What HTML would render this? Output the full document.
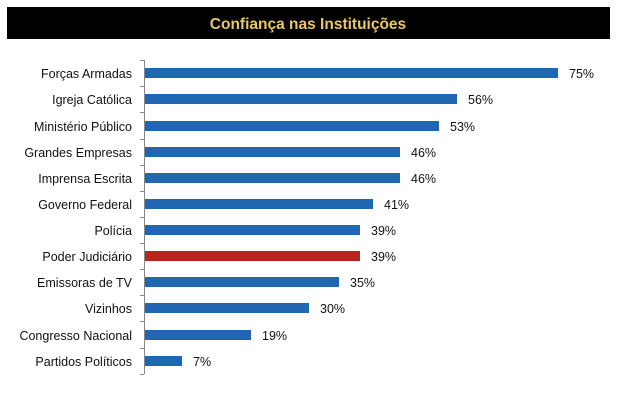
<!DOCTYPE html><html><head><style>
body{margin:0;width:626px;height:400px;background:#fff;font-family:"Liberation Sans",sans-serif;overflow:hidden}
</style></head><body>
<svg width="626" height="400" xmlns="http://www.w3.org/2000/svg">
<rect x="7" y="7" width="603" height="32" fill="#000"/>
<text x="308" y="29" text-anchor="middle" font-family="Liberation Sans" font-weight="bold" font-size="15.5" fill="#e8c860">Confiança nas Instituições</text>
<line x1="144.5" y1="60" x2="144.5" y2="374" stroke="#888" stroke-width="1"/>
<g fill="#2166b0">
<rect x="145" y="68" width="413" height="10"/>
<rect x="145" y="94" width="312" height="10"/>
<rect x="145" y="121" width="294" height="10"/>
<rect x="145" y="147" width="255" height="10"/>
<rect x="145" y="173" width="255" height="10"/>
<rect x="145" y="199" width="228" height="10"/>
<rect x="145" y="225" width="215" height="10"/>
<rect x="145" y="251" width="215" height="10" fill="#b8251f"/>
<rect x="145" y="277" width="194" height="10"/>
<rect x="145" y="303" width="164" height="10"/>
<rect x="145" y="330" width="106" height="10"/>
<rect x="145" y="356" width="37" height="10"/>
</g>
<g stroke="#888">
<line x1="140" y1="60.5" x2="144" y2="60.5"/><line x1="140" y1="86.5" x2="144" y2="86.5"/><line x1="140" y1="112.5" x2="144" y2="112.5"/><line x1="140" y1="139.5" x2="144" y2="139.5"/><line x1="140" y1="165.5" x2="144" y2="165.5"/><line x1="140" y1="191.5" x2="144" y2="191.5"/><line x1="140" y1="217.5" x2="144" y2="217.5"/><line x1="140" y1="243.5" x2="144" y2="243.5"/><line x1="140" y1="269.5" x2="144" y2="269.5"/><line x1="140" y1="295.5" x2="144" y2="295.5"/><line x1="140" y1="321.5" x2="144" y2="321.5"/><line x1="140" y1="348.5" x2="144" y2="348.5"/><line x1="140" y1="374.5" x2="144" y2="374.5"/>
</g>
<g font-family="Liberation Sans" font-size="12.5" fill="#111" text-anchor="end">
<text x="132" y="78">Forças Armadas</text>
<text x="132" y="104">Igreja Católica</text>
<text x="132" y="131">Ministério Público</text>
<text x="132" y="157">Grandes Empresas</text>
<text x="132" y="183">Imprensa Escrita</text>
<text x="132" y="209">Governo Federal</text>
<text x="132" y="235">Polícia</text>
<text x="132" y="261">Poder Judiciário</text>
<text x="132" y="287">Emissoras de TV</text>
<text x="132" y="313">Vizinhos</text>
<text x="132" y="340">Congresso Nacional</text>
<text x="132" y="366">Partidos Políticos</text>
</g>
<g font-family="Liberation Sans" font-size="12.5" fill="#111">
<text x="569" y="78">75%</text>
<text x="468" y="104">56%</text>
<text x="450" y="131">53%</text>
<text x="411" y="157">46%</text>
<text x="411" y="183">46%</text>
<text x="384" y="209">41%</text>
<text x="371" y="235">39%</text>
<text x="371" y="261">39%</text>
<text x="350" y="287">35%</text>
<text x="320" y="313">30%</text>
<text x="262" y="340">19%</text>
<text x="193" y="366">7%</text>
</g>
</svg>
</body></html>
